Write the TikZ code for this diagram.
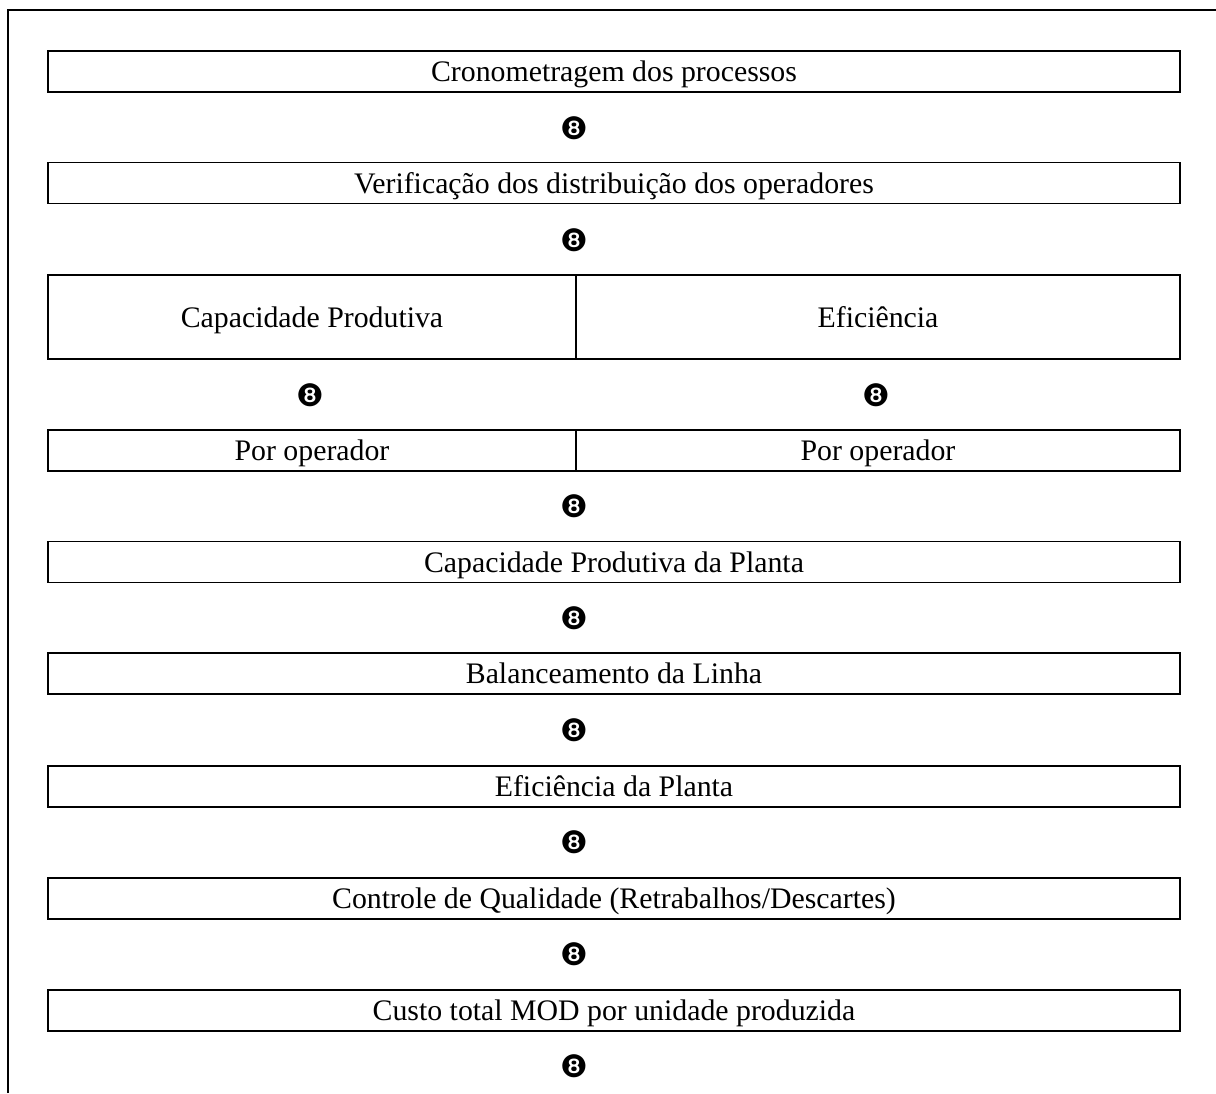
\documentclass[tikz,border=0pt]{standalone}
\usepackage{fontspec}
\setmainfont{Liberation Serif}
\newfontfamily\simbolo{DejaVu Sans}

\begin{document}
\begin{tikzpicture}[
    caixa/.style = {draw, line width=1.4pt, minimum width=28.3cm, minimum height=1.025cm, inner sep=0pt, text height=19pt, text depth=4.1pt, font=\fontsize{21.2}{25}\selectfont},
    meia/.style = {caixa, minimum width=#1},
    seta/.style = {inner sep=0pt, font=\simbolo\fontsize{22}{26}\selectfont}
]
    \useasboundingbox (0,0) rectangle (30.4,-27.325);
    % moldura
    \coordinate (fundo) at (0.2,-27.325);
    \coordinate (canto) at (0.2,-0.25);
    \coordinate (direita) at (30.4,-0.25);
    \draw [line width=1.4pt](fundo)--(canto)--(direita);
    %
    \draw
    (15.35,-1.7875)node(crono)[caixa]{Cronometragem dos processos}
    (14.35,-3.2)node(s1)[seta]{❽}
    (15.35,-4.575)node(verif)[caixa]{Verificação dos distribuição dos operadores}
    (14.35,-6.0125)node(s2)[seta]{❽}
    (7.8,-7.925)node(cap)[meia=13.2cm, minimum height=2.1cm]{Capacidade Produtiva}
    (21.95,-7.925)node(efi)[meia=15.1cm, minimum height=2.1cm]{Eficiência}
    (7.75,-9.8875)node(s3)[seta]{❽}
    (21.9,-9.8875)node(s4)[seta]{❽}
    (7.8,-11.2625)node(capop)[meia=13.2cm]{Por operador}
    (21.95,-11.2625)node(efiop)[meia=15.1cm]{Por operador}
    (14.35,-12.6625)node(s5)[seta]{❽}
    (15.35,-14.05)node(planta)[caixa]{Capacidade Produtiva da Planta}
    (14.35,-15.4625)node(s6)[seta]{❽}
    (15.35,-16.8375)node(balanc)[caixa]{Balanceamento da Linha}
    (14.35,-18.2625)node(s7)[seta]{❽}
    (15.35,-19.6625)node(efiplanta)[caixa]{Eficiência da Planta}
    (14.35,-21.0625)node(s8)[seta]{❽}
    (15.35,-22.45)node(qualid)[caixa]{Controle de Qualidade (Retrabalhos/Descartes)}
    (14.35,-23.8625)node(s9)[seta]{❽}
    (15.35,-25.25)node(custo)[caixa]{Custo total MOD por unidade produzida}
    (14.35,-26.6625)node(s10)[seta]{❽};
\end{tikzpicture}
\end{document}
